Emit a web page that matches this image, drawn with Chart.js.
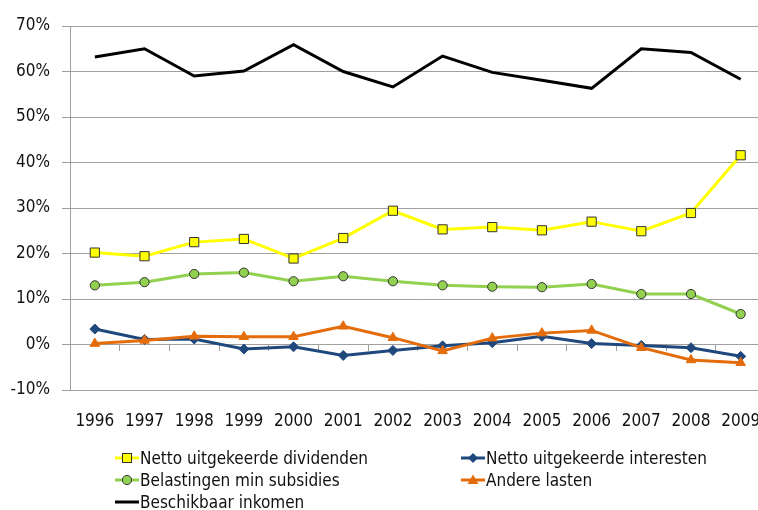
<!DOCTYPE html>
<html>
<head>
<meta charset="utf-8">
<script src="https://cdn.jsdelivr.net/npm/chart.js@4/dist/chart.umd.min.js"></script>
<style>
  html, body { margin: 0; padding: 0; background: #fff; overflow: hidden; }
  #wrap { position: relative; width: 773px; height: 510px; }
  #legend { position: absolute; left: 0; top: 0; width: 773px; height: 510px; pointer-events: none;
            font-family: "DejaVu Sans Condensed", "Liberation Sans Narrow", sans-serif; font-size: 17px; color: #111; }
  .item { position: absolute; height: 22px; line-height: 22px; white-space: nowrap; }
  .item svg { position: absolute; left: 0; top: 4px; }
  .item span { position: absolute; left: 25px; top: 0; }
</style>
</head>
<body>
<div id="wrap">
  <canvas id="chart" width="773" height="510"></canvas>
  <div id="legend"></div>
</div>
<script>
// values, in percent
const years = ['1996','1997','1998','1999','2000','2001','2002','2003','2004','2005','2006','2007','2008','2009'];

const dividenden = [20.2, 19.4, 22.5, 23.2, 18.9, 23.4, 29.4, 25.3, 25.8, 25.1, 27.0, 24.9, 28.9, 41.6];
const interesten = [3.4, 1.1, 1.2, -1.0, -0.5, -2.4, -1.3, -0.3, 0.4, 1.8, 0.2, -0.2, -0.7, -2.6];
const belastingen = [13.0, 13.7, 15.5, 15.8, 13.9, 15.0, 13.9, 13.0, 12.7, 12.6, 13.3, 11.1, 11.1, 6.7];
const andereLasten = [0.2, 0.9, 1.8, 1.7, 1.7, 4.0, 1.5, -1.4, 1.4, 2.5, 3.1, -0.7, -3.4, -4.0];
const beschikbaar = [63.2, 65.0, 59.0, 60.1, 65.9, 60.0, 56.6, 63.4, 59.8, 58.1, 56.3, 65.0, 64.2, 58.3];

const yTicks = [-10, 0, 10, 20, 30, 40, 50, 60, 70];

const FONT = '"DejaVu Sans Condensed", "Liberation Sans Narrow", sans-serif';
const GRID = '#a0a0a0';

const series = [
  { label: 'Netto uitgekeerde dividenden', data: dividenden, color: '#ffff00', fill: '#ffff00', edge: '#333333', style: 'rect', r: 6.5, order: 0 },
  { label: 'Netto uitgekeerde interesten', data: interesten, color: '#1f497d', fill: '#1f497d', edge: '#1f497d', style: 'rectRot', r: 5, order: 2 },
  { label: 'Belastingen min subsidies', data: belastingen, color: '#92d050', fill: '#92d050', edge: '#333333', style: 'circle', r: 4.6, order: 3 },
  { label: 'Andere lasten', data: andereLasten, color: '#e46c0a', fill: '#e46c0a', edge: '#e46c0a', style: 'triangle', r: 5.5, order: 1 },
  { label: 'Beschikbaar inkomen', data: beschikbaar, color: '#000000', fill: '#000000', edge: '#000000', style: false, r: 0, order: 4 }
];

const datasets = series.map(s => ({
  label: s.label,
  data: s.data,
  borderColor: s.color,
  backgroundColor: s.fill,
  borderWidth: 3,
  tension: 0,
  pointStyle: s.style || 'circle',
  pointRadius: s.r,
  pointBackgroundColor: s.fill,
  pointBorderColor: s.edge,
  pointBorderWidth: 1,
  order: s.order
}));

new Chart(document.getElementById('chart'), {
  type: 'line',
  data: { labels: years, datasets: datasets },
  options: {
    responsive: false,
    animation: false,
    layout: { padding: { top: 26, left: 0, right: 0, bottom: 0 } },
    plugins: { legend: { display: false }, tooltip: { enabled: false } },
    scales: {
      x: {
        offset: true,
        grid: { display: false, drawTicks: false },
        border: { display: false },
        ticks: { color: '#111', font: { family: FONT, size: 17 }, padding: 21, maxRotation: 0, autoSkip: false },
        afterFit: s => { s.height = 120; s.paddingLeft = 0; s.paddingRight = 0; }
      },
      x2: {
        type: 'category',
        position: { y: 0 },
        offset: true,
        grid: { offset: true, drawOnChartArea: false, drawTicks: true, tickLength: 6, color: GRID },
        border: { display: true, color: GRID },
        ticks: { display: false },
        afterFit: s => { s.paddingLeft = 0; s.paddingRight = 0; }
      },
      y: {
        min: -10,
        max: 70,
        afterBuildTicks: s => { s.ticks = yTicks.map(v => ({ value: v })); },
        grid: { color: GRID, lineWidth: 1, tickLength: 8 },
        border: { display: true, color: GRID },
        ticks: {
          color: '#111',
          font: { family: FONT, size: 17 },
          padding: 12,
          callback: v => v + '%'
        },
        afterFit: s => { s.width = 70; }
      }
    }
  }
});

// legend in two columns, like the original
function icon(s) {
  let m = '';
  if (s.style === 'rect') m = '<rect x="7.5" y="2.5" width="9" height="9" fill="' + s.fill + '" stroke="' + s.edge + '"/>';
  if (s.style === 'rectRot') m = '<polygon points="12,2 17,7 12,12 7,7" fill="' + s.fill + '"/>';
  if (s.style === 'circle') m = '<circle cx="12" cy="7" r="4.6" fill="' + s.fill + '" stroke="' + s.edge + '"/>';
  if (s.style === 'triangle') m = '<polygon points="12,1.5 17.5,11 6.5,11" fill="' + s.fill + '"/>';
  return '<svg width="24" height="14"><line x1="0" y1="7" x2="24" y2="7" stroke="' + s.color + '" stroke-width="3"/>' + m + '</svg>';
}
const cols = [115, 461];
const rows = [447, 469, 491];
const legend = document.getElementById('legend');
series.forEach((s, i) => {
  const d = document.createElement('div');
  d.className = 'item';
  d.style.left = cols[i % 2] + 'px';
  d.style.top = rows[Math.floor(i / 2)] + 'px';
  d.innerHTML = icon(s) + '<span>' + s.label + '</span>';
  legend.appendChild(d);
});
</script>
</body>
</html>
